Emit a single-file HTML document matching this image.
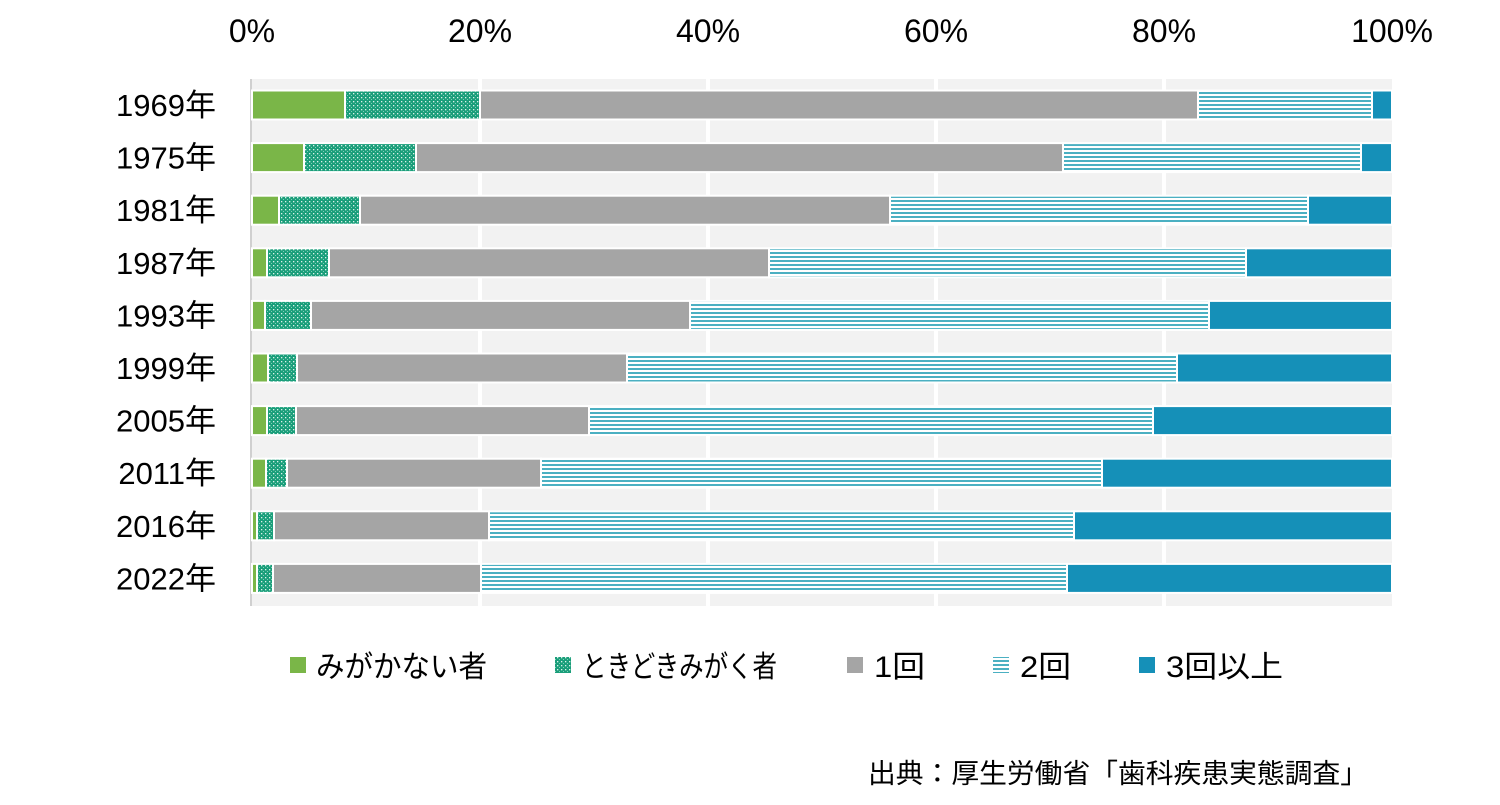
<!DOCTYPE html>
<html><head><meta charset="utf-8"><style>
html,body{margin:0;padding:0;background:#fff;}
svg{display:block;font-family:"Liberation Sans","Noto Sans CJK JP",sans-serif;}
</style></head><body>
<svg width="1500" height="805" viewBox="0 0 1500 805" xmlns="http://www.w3.org/2000/svg">
<defs>
<pattern id="dots" width="4" height="4" patternUnits="userSpaceOnUse">
<rect width="4" height="4" fill="#1a9e7a"/>
<rect x="1" y="1" width="1.3" height="1.3" fill="#fff" opacity="0.85"/>
<rect x="3" y="3" width="1" height="1" fill="#7fd0b8"/>
</pattern>
<pattern id="lines" width="4" height="4" patternUnits="userSpaceOnUse">
<rect width="4" height="4" fill="#fff"/>
<rect y="0" width="4" height="2" fill="#4bb0c2"/>
</pattern>
</defs>
<rect x="252" y="79" width="1140" height="527" fill="#f2f2f2"/>
<g stroke="#fff" stroke-width="4">
<line x1="480" y1="79" x2="480" y2="606"/><line x1="708" y1="79" x2="708" y2="606"/>
<line x1="936" y1="79" x2="936" y2="606"/><line x1="1164" y1="79" x2="1164" y2="606"/>
</g>
<line x1="251" y1="79" x2="251" y2="606" stroke="#d0d0d0" stroke-width="2"/>
<g font-size="32" fill="#000" text-anchor="middle">
<text x="252" y="42">0%</text><text x="480" y="42">20%</text><text x="708" y="42">40%</text>
<text x="936" y="42">60%</text><text x="1164" y="42">80%</text><text x="1392" y="42">100%</text>
</g>
<g id="bars" stroke="#fff" stroke-width="2"></g>
<g font-size="31" fill="#000" text-anchor="end" id="labels"></g>
<g font-size="30" fill="#000" lengthAdjust="spacingAndGlyphs">
<rect x="290" y="657" width="16" height="16" fill="#7ab648"/><text x="316" y="677" textLength="171" lengthAdjust="spacingAndGlyphs">みがかない者</text>
<rect x="555" y="657" width="16" height="16" fill="url(#dots)"/><text x="582" y="677" textLength="195" lengthAdjust="spacingAndGlyphs">ときどきみがく者</text>
<rect x="847" y="657" width="16" height="16" fill="#a5a5a5"/><text x="874" y="677" textLength="51" lengthAdjust="spacingAndGlyphs">1回</text>
<rect x="993" y="657" width="16" height="16" fill="url(#lines)"/><text x="1020" y="677" textLength="51" lengthAdjust="spacingAndGlyphs">2回</text>
<rect x="1139" y="657" width="16" height="16" fill="#1590b8"/><text x="1166" y="677" textLength="117" lengthAdjust="spacingAndGlyphs">3回以上</text>
</g>
<text x="868" y="783" font-size="27" textLength="500" lengthAdjust="spacingAndGlyphs">出典：厚生労働省「歯科疾患実態調査」</text>
<script>
var d=[["1969",[252,345,480,1198,1372,1392]],["1975",[252,304,416,1063,1361,1392]],["1981",[252,279,360,890,1308,1392]],["1987",[252,267,329,769,1246,1392]],["1993",[252,265,311,690,1209,1392]],["1999",[252,268,297,627,1177,1392]],["2005",[252,267,296,589,1153,1392]],["2011",[252,266,287,541,1102,1392]],["2016",[252,257,274,489,1074,1392]],["2022",[252,257,273,481,1067,1392]]];
var f=["#7ab648","url(#dots)","#a5a5a5","url(#lines)","#1590b8"];
var ns="http://www.w3.org/2000/svg",g=document.getElementById("bars"),l=document.getElementById("labels");
d.forEach(function(r,i){var cy=105+i*52.6;
for(var k=0;k<5;k++){var e=document.createElementNS(ns,"rect");e.setAttribute("x",r[1][k]);e.setAttribute("y",cy-14.5);e.setAttribute("width",r[1][k+1]-r[1][k]);e.setAttribute("height",29);e.setAttribute("fill",f[k]);g.appendChild(e);}
var t=document.createElementNS(ns,"text");t.setAttribute("x",216);t.setAttribute("y",cy+11);t.textContent=r[0]+"年";l.appendChild(t);});
</script>
</svg>
</body></html>
